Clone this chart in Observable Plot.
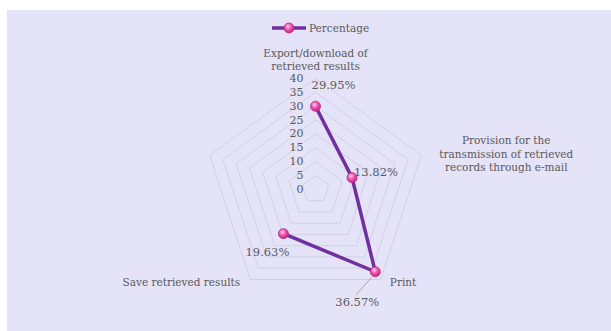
<!DOCTYPE html>
<html>
<head>
<meta charset="utf-8">
<script src="https://cdn.jsdelivr.net/npm/d3@7"></script>
<script src="https://cdn.jsdelivr.net/npm/@observablehq/plot@0.6"></script>
<style>
  html, body { margin: 0; padding: 0; background: #ffffff; }
  #panel { position: absolute; left: 7px; top: 10px; width: 604px; height: 321px; background: #e5e3f8; overflow: hidden; }
  #legend { position: absolute; left: 264px; top: 10px; height: 16px; display: flex; align-items: center; font-family: "DejaVu Serif", serif; font-size: 10.5px; color: #595959; }
  #chart { position: absolute; left: 0; top: 38px; line-height: 0; }
  text { font-family: "DejaVu Serif", serif; }
</style>
</head>
<body>
<div id="panel">
  <div id="legend"></div>
  <div id="chart"></div>
</div>
<script>
// ---- data ----
const categories = [
  "Export/download of\nretrieved results",
  "Provision for the\ntransmission of retrieved\nrecords through e-mail",
  "Print",
  "Save retrieved results",
  ""
];
const values = [29.95, 13.82, 36.57, 19.63, null];
const valueLabels = ["29.95%", "13.82%", "36.57%", "19.63%", ""];
const radialTicks = [0, 5, 10, 15, 20, 25, 30, 35, 40];
const seriesName = "Percentage";

// ---- geometry ----
const W = 604, H = 283;
const k = 2.78;            // px per unit
const cx = 308, cy = 141;  // centre in svg px
const n = categories.length;
const rMax = d3.max(radialTicks);
const ang = i => 2 * Math.PI * i / n;
const px = (v, i) => v * Math.sin(ang(i));
const py = (v, i) => v * Math.cos(ang(i));

const rings = [];
radialTicks.filter(t => t > 0).forEach(t => {
  for (let j = 0; j <= n; j++) rings.push({ring: t, x: px(t, j % n), y: py(t, j % n)});
});
const pts = categories.map((c, i) => ({
  i, cat: c, v: values[i], label: valueLabels[i],
  x: values[i] == null ? null : px(values[i], i),
  y: values[i] == null ? null : py(values[i], i),
  ox: px(rMax, i), oy: py(rMax, i)
}));
const defined = pts.filter(d => d.v != null);

const grey = "#595959";
const lblOff = [
  {dx: 0, dy: -19, anchor: "middle"},
  {dx: 85, dy: -2, anchor: "middle"},
  {dx: 9, dy: 2, anchor: "start"},
  {dx: -10, dy: 2, anchor: "end"},
  {dx: -10, dy: 0, anchor: "end"}
];
const valOff = [
  {dx: 18, dy: -21, anchor: "middle"},
  {dx: 2, dy: -5, anchor: "start"},
  {dx: -18, dy: 31, anchor: "middle"},
  {dx: -16, dy: 19, anchor: "middle"},
  {dx: 0, dy: 0, anchor: "middle"}
];

const catMarks = pts.map((d, i) => Plot.text([d], {
  x: "ox", y: "oy", text: "cat", dx: lblOff[i].dx, dy: lblOff[i].dy,
  textAnchor: lblOff[i].anchor, lineAnchor: "middle", lineHeight: 1.3,
  fill: grey, fontSize: 10.5
}));
const valMarks = defined.map(d => Plot.text([d], {
  x: "x", y: "y", text: "label", dx: valOff[d.i].dx, dy: valOff[d.i].dy,
  textAnchor: valOff[d.i].anchor, fill: grey, fontSize: 11.5
}));

// leader line for the "Print" label
const leader = defined.filter(d => d.i === 2).map(d => ({
  x1: d.x - 4 / k, y1: d.y - 6 / k, x2: d.x - 19 / k, y2: d.y - 23 / k
}));

const chart = Plot.plot({
  width: W, height: H, margin: 0,
  style: {background: "transparent", overflow: "visible"},
  x: {domain: [-cx / k, (W - cx) / k], axis: null},
  y: {domain: [-(H - cy) / k, cy / k], axis: null},
  marks: [
    Plot.line(rings, {x: "x", y: "y", z: "ring", stroke: "#d2d0e2", strokeWidth: 1}),
    Plot.text(radialTicks, {x: 0, y: d => d, text: d => String(d), textAnchor: "end", dx: -12, fill: grey, fontSize: 11}),
    Plot.link(leader, {x1: "x1", y1: "y1", x2: "x2", y2: "y2", stroke: "#a6a6a6", strokeWidth: 1}),
    Plot.line(defined, {x: "x", y: "y", stroke: "#7030a0", strokeWidth: 3.5, strokeLinejoin: "round"}),
    Plot.dot(defined, {x: "x", y: "y", r: 5, fill: "url(#pinkBall)", stroke: "#b8287c", strokeWidth: 0.8}),
    ...catMarks,
    ...valMarks
  ]
});

const defs = `<defs><radialGradient id="pinkBall" cx="40%" cy="35%" r="65%">
  <stop offset="0%" stop-color="#ffd2ee"/>
  <stop offset="45%" stop-color="#f25cb4"/>
  <stop offset="100%" stop-color="#c8227e"/>
</radialGradient></defs>`;
chart.insertAdjacentHTML("afterbegin", defs);
document.getElementById("chart").appendChild(chart);

// legend
const lg = document.getElementById("legend");
lg.innerHTML = `<svg width="36" height="14" style="margin-right:2px">
  <defs><radialGradient id="pinkBall2" cx="40%" cy="35%" r="65%">
  <stop offset="0%" stop-color="#ffd2ee"/><stop offset="45%" stop-color="#f25cb4"/><stop offset="100%" stop-color="#c8227e"/></radialGradient></defs>
  <line x1="1" x2="35" y1="7" y2="7" stroke="#7030a0" stroke-width="3.5"/>
  <circle cx="18" cy="7" r="5" fill="url(#pinkBall2)" stroke="#b8287c" stroke-width="0.8"/>
</svg><span></span>`;
lg.querySelector("span").textContent = seriesName;
</script>
</body>
</html>
